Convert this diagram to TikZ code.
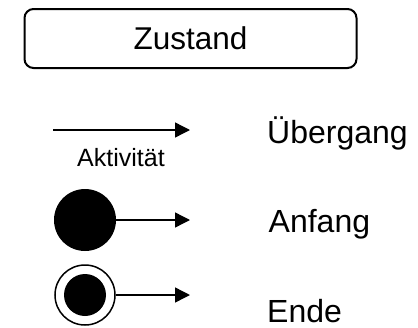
\documentclass[tikz,border=0pt]{standalone}
\usepackage{fontspec}
\setmainfont{Liberation Sans}
\usetikzlibrary{arrows.meta}
\begin{document}
\begin{tikzpicture}[x=1pt,y=-1pt,
  bigtext/.style={font=\fontsize{32}{36}\selectfont, inner sep=0pt, anchor=base west},
  flow/.style={line width=1.4pt, -{Triangle[length=15pt,width=15pt]}},
  statebox/.style={draw, line width=2pt, rounded corners=9pt, minimum width=332pt, minimum height=59pt, inner sep=0pt, font=\fontsize{31.5}{36}\selectfont}]
\useasboundingbox (0,0) rectangle (418,327);
\node[statebox] (zustand) at (190.5,38.5) {Zustand};
% transition
\coordinate (t1) at (53,130);
\coordinate (t2) at (190,130);
\draw[flow] (t1) -- (t2);
\node[font=\fontsize{25}{30}\selectfont, inner sep=0pt, anchor=base] (akt) at (121,166) {Aktivität};
\node[bigtext] (uebergang) at (267,143) {Übergang};
% start
\node[circle, fill=black, minimum size=62pt, inner sep=0pt] (start) at (85,220) {};
\coordinate (s2) at (190,220);
\draw[flow] (start.east) -- (s2);
\node[bigtext] (anfang) at (268.5,232) {Anfang};
% end
\node[circle, draw, line width=1.5pt, minimum size=60pt, inner sep=0pt] (endo) at (85,295) {};
\node[circle, fill=black, minimum size=42pt, inner sep=0pt] (endi) at (85,295) {};
\coordinate (e2) at (190,295);
\draw[flow] (endo.east) -- (e2);
\node[bigtext] (ende) at (267,322.5) {Ende};
\end{tikzpicture}
\end{document}
